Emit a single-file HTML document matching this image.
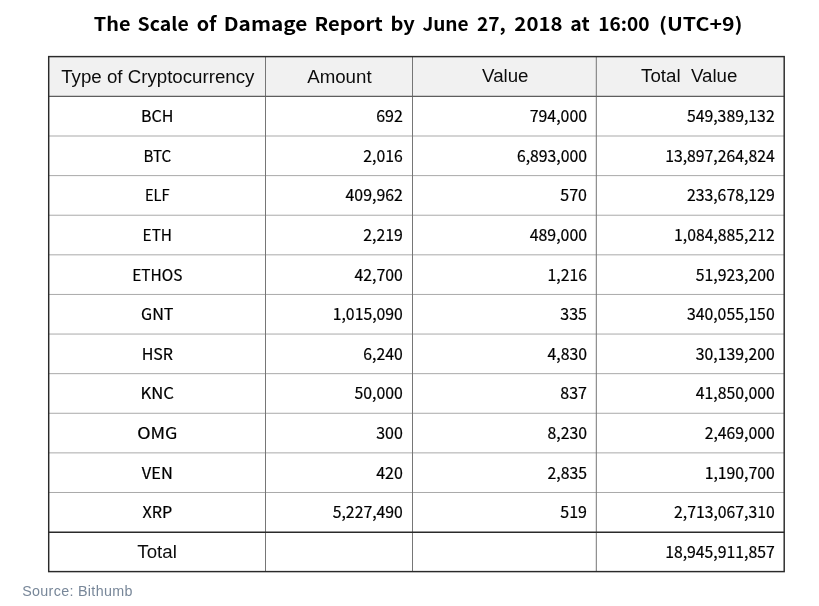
<!DOCTYPE html>
<html lang="en">
<head>
<meta charset="utf-8">
<title>The Scale of Damage Report</title>
<style>
html,body{margin:0;padding:0;background:#fff;}
body{width:819px;height:606px;overflow:hidden;}
svg{display:block;}
.title{font-family:"Noto Sans CJK KR","Liberation Sans",sans-serif;font-weight:700;font-size:18.5px;fill:#000;}
.hd{font-family:"Liberation Sans",Arial,Helvetica,sans-serif;font-size:18.7px;fill:#0c0c0c;}
.bd{font-family:"Noto Sans CJK KR","Liberation Sans",sans-serif;font-size:16px;fill:#000;stroke:#000;stroke-width:0.2px;}
.src{font-family:"Liberation Sans",Arial,Helvetica,sans-serif;font-size:14.3px;fill:#788799;}
</style>
</head>
<body>
<svg width="819" height="606" viewBox="0 0 819 606">
<rect x="0" y="0" width="819" height="606" fill="#ffffff"/>
<rect x="48.7" y="56.6" width="735.5" height="39.800000000000004" fill="#f1f1f1"/>
<line x1="48.7" y1="136.01" x2="784.2" y2="136.01" stroke="#a9a9a9" stroke-width="1"/>
<line x1="48.7" y1="175.62" x2="784.2" y2="175.62" stroke="#a9a9a9" stroke-width="1"/>
<line x1="48.7" y1="215.23" x2="784.2" y2="215.23" stroke="#a9a9a9" stroke-width="1"/>
<line x1="48.7" y1="254.84" x2="784.2" y2="254.84" stroke="#a9a9a9" stroke-width="1"/>
<line x1="48.7" y1="294.45" x2="784.2" y2="294.45" stroke="#a9a9a9" stroke-width="1"/>
<line x1="48.7" y1="334.05" x2="784.2" y2="334.05" stroke="#a9a9a9" stroke-width="1"/>
<line x1="48.7" y1="373.66" x2="784.2" y2="373.66" stroke="#a9a9a9" stroke-width="1"/>
<line x1="48.7" y1="413.27" x2="784.2" y2="413.27" stroke="#a9a9a9" stroke-width="1"/>
<line x1="48.7" y1="452.88" x2="784.2" y2="452.88" stroke="#a9a9a9" stroke-width="1"/>
<line x1="48.7" y1="492.49" x2="784.2" y2="492.49" stroke="#a9a9a9" stroke-width="1"/>
<line x1="265.5" y1="56.6" x2="265.5" y2="571.6" stroke="#767676" stroke-width="1"/>
<line x1="412.5" y1="56.6" x2="412.5" y2="571.6" stroke="#767676" stroke-width="1"/>
<line x1="596.3" y1="56.6" x2="596.3" y2="571.6" stroke="#767676" stroke-width="1"/>
<line x1="48.7" y1="96.4" x2="784.2" y2="96.4" stroke="#5e5e5e" stroke-width="1.1"/>
<line x1="48.7" y1="532.25" x2="784.2" y2="532.25" stroke="#2a2a2a" stroke-width="1.45"/>
<rect x="48.7" y="56.6" width="735.5" height="515.0" fill="none" stroke="#2a2a2a" stroke-width="1.45"/>
<text class="title" y="31.15"><tspan x="93.78" textLength="36.69" lengthAdjust="spacingAndGlyphs">The</tspan> <tspan x="137.59" textLength="51.14" lengthAdjust="spacingAndGlyphs">Scale</tspan> <tspan x="196.77" textLength="19.68" lengthAdjust="spacingAndGlyphs">of</tspan> <tspan x="223.76" textLength="83.58" lengthAdjust="spacingAndGlyphs">Damage</tspan> <tspan x="314.62" textLength="68.06" lengthAdjust="spacingAndGlyphs">Report</tspan> <tspan x="390.43" textLength="24.31" lengthAdjust="spacingAndGlyphs">by</tspan> <tspan x="422.40" textLength="46.29" lengthAdjust="spacingAndGlyphs">June</tspan> <tspan x="477.00" textLength="28.79" lengthAdjust="spacingAndGlyphs">27,</tspan> <tspan x="514.36" textLength="48.11" lengthAdjust="spacingAndGlyphs">2018</tspan> <tspan x="570.38" textLength="19.39" lengthAdjust="spacingAndGlyphs">at</tspan> <tspan x="598.21" textLength="51.24" lengthAdjust="spacingAndGlyphs">16:00</tspan> <tspan x="658.93" textLength="83.68" lengthAdjust="spacingAndGlyphs">(UTC+9)</tspan></text>
<text class="hd" x="157.80" y="82.60" text-anchor="middle" style="white-space:pre">Type of Cryptocurrency</text>
<text class="hd" x="339.40" y="83.25" text-anchor="middle" style="white-space:pre">Amount</text>
<text class="hd" x="505.30" y="82.35" text-anchor="middle" style="white-space:pre">Value</text>
<text class="hd" x="689.25" y="82.25" text-anchor="middle" style="white-space:pre">Total  Value</text>
<text class="bd" transform="translate(157.30 122.15) scale(1.0 1)" text-anchor="middle">BCH</text>
<text class="bd" x="402.80" y="122.15" text-anchor="end">692</text>
<text class="bd" x="587.00" y="122.15" text-anchor="end" textLength="57.23" lengthAdjust="spacingAndGlyphs">794,000</text>
<text class="bd" x="774.70" y="122.15" text-anchor="end" textLength="87.82" lengthAdjust="spacingAndGlyphs">549,389,132</text>
<text class="bd" transform="translate(157.30 161.76) scale(0.945 1)" text-anchor="middle">BTC</text>
<text class="bd" x="402.80" y="161.76" text-anchor="end" textLength="39.47" lengthAdjust="spacingAndGlyphs">2,016</text>
<text class="bd" x="587.00" y="161.76" text-anchor="end" textLength="70.06" lengthAdjust="spacingAndGlyphs">6,893,000</text>
<text class="bd" x="774.70" y="161.76" text-anchor="end" textLength="109.53" lengthAdjust="spacingAndGlyphs">13,897,264,824</text>
<text class="bd" transform="translate(157.30 201.37) scale(0.915 1)" text-anchor="middle">ELF</text>
<text class="bd" x="402.80" y="201.37" text-anchor="end" textLength="57.23" lengthAdjust="spacingAndGlyphs">409,962</text>
<text class="bd" x="587.00" y="201.37" text-anchor="end">570</text>
<text class="bd" x="774.70" y="201.37" text-anchor="end" textLength="87.82" lengthAdjust="spacingAndGlyphs">233,678,129</text>
<text class="bd" transform="translate(157.30 240.98) scale(0.96 1)" text-anchor="middle">ETH</text>
<text class="bd" x="402.80" y="240.98" text-anchor="end" textLength="39.47" lengthAdjust="spacingAndGlyphs">2,219</text>
<text class="bd" x="587.00" y="240.98" text-anchor="end" textLength="57.23" lengthAdjust="spacingAndGlyphs">489,000</text>
<text class="bd" x="774.70" y="240.98" text-anchor="end" textLength="100.65" lengthAdjust="spacingAndGlyphs">1,084,885,212</text>
<text class="bd" transform="translate(157.30 280.59) scale(0.965 1)" text-anchor="middle">ETHOS</text>
<text class="bd" x="402.80" y="280.59" text-anchor="end" textLength="48.35" lengthAdjust="spacingAndGlyphs">42,700</text>
<text class="bd" x="587.00" y="280.59" text-anchor="end" textLength="39.47" lengthAdjust="spacingAndGlyphs">1,216</text>
<text class="bd" x="774.70" y="280.59" text-anchor="end" textLength="78.94" lengthAdjust="spacingAndGlyphs">51,923,200</text>
<text class="bd" transform="translate(157.30 320.20) scale(1.01 1)" text-anchor="middle">GNT</text>
<text class="bd" x="402.80" y="320.20" text-anchor="end" textLength="70.06" lengthAdjust="spacingAndGlyphs">1,015,090</text>
<text class="bd" x="587.00" y="320.20" text-anchor="end">335</text>
<text class="bd" x="774.70" y="320.20" text-anchor="end" textLength="87.82" lengthAdjust="spacingAndGlyphs">340,055,150</text>
<text class="bd" transform="translate(157.30 359.81) scale(1.0 1)" text-anchor="middle">HSR</text>
<text class="bd" x="402.80" y="359.81" text-anchor="end" textLength="39.47" lengthAdjust="spacingAndGlyphs">6,240</text>
<text class="bd" x="587.00" y="359.81" text-anchor="end" textLength="39.47" lengthAdjust="spacingAndGlyphs">4,830</text>
<text class="bd" x="774.70" y="359.81" text-anchor="end" textLength="78.94" lengthAdjust="spacingAndGlyphs">30,139,200</text>
<text class="bd" transform="translate(157.30 399.42) scale(1.04 1)" text-anchor="middle">KNC</text>
<text class="bd" x="402.80" y="399.42" text-anchor="end" textLength="48.35" lengthAdjust="spacingAndGlyphs">50,000</text>
<text class="bd" x="587.00" y="399.42" text-anchor="end">837</text>
<text class="bd" x="774.70" y="399.42" text-anchor="end" textLength="78.94" lengthAdjust="spacingAndGlyphs">41,850,000</text>
<text class="bd" transform="translate(157.30 439.03) scale(1.12 1)" text-anchor="middle">OMG</text>
<text class="bd" x="402.80" y="439.03" text-anchor="end">300</text>
<text class="bd" x="587.00" y="439.03" text-anchor="end" textLength="39.47" lengthAdjust="spacingAndGlyphs">8,230</text>
<text class="bd" x="774.70" y="439.03" text-anchor="end" textLength="70.06" lengthAdjust="spacingAndGlyphs">2,469,000</text>
<text class="bd" transform="translate(157.30 478.64) scale(1.025 1)" text-anchor="middle">VEN</text>
<text class="bd" x="402.80" y="478.64" text-anchor="end">420</text>
<text class="bd" x="587.00" y="478.64" text-anchor="end" textLength="39.47" lengthAdjust="spacingAndGlyphs">2,835</text>
<text class="bd" x="774.70" y="478.64" text-anchor="end" textLength="70.06" lengthAdjust="spacingAndGlyphs">1,190,700</text>
<text class="bd" transform="translate(157.30 518.25) scale(1.01 1)" text-anchor="middle">XRP</text>
<text class="bd" x="402.80" y="518.25" text-anchor="end" textLength="70.06" lengthAdjust="spacingAndGlyphs">5,227,490</text>
<text class="bd" x="587.00" y="518.25" text-anchor="end">519</text>
<text class="bd" x="774.70" y="518.25" text-anchor="end" textLength="100.65" lengthAdjust="spacingAndGlyphs">2,713,067,310</text>
<text class="hd" x="157.10" y="557.93" text-anchor="middle">Total</text>
<text class="bd" x="774.70" y="557.88" text-anchor="end" textLength="109.53" lengthAdjust="spacingAndGlyphs">18,945,911,857</text>
<text class="src" x="22.2" y="595.8" letter-spacing="0.32">Source: Bithumb</text>
</svg>
</body>
</html>
